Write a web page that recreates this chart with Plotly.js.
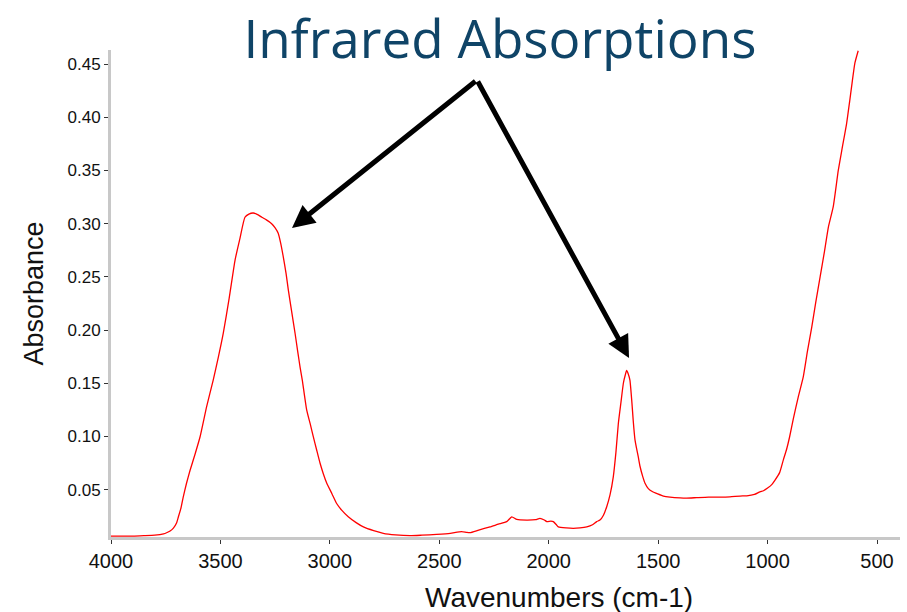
<!DOCTYPE html>
<html>
<head>
<meta charset="utf-8">
<script src="https://cdn.plot.ly/plotly-3.0.1.min.js"></script>
<style>html,body{margin:0;padding:0;background:#fff;}#chart{width:907px;height:612px;}</style>
</head>
<body>
<div id="chart"></div>
<script>
const wavenumbers = [4000,3900,3850,3800,3760,3746,3730,3715,3700,3692,3680,3670,3655,3639,3615,3593,3563,3533,3510,3487,3460,3433,3411,3388,3370,3350,3330,3311,3290,3266,3250,3236,3225,3213,3200,3190,3175,3159,3147,3136,3126,3106,3090,3076,3060,3045,3030,3014,2990,2969,2945,2916,2880,2847,2800,2756,2700,2634,2580,2512,2450,2398,2375,2360,2320,2268,2230,2192,2169,2146,2101,2060,2040,2020,2009,1990,1979,1965,1956,1920,1888,1857,1826,1800,1781,1766,1750,1735,1720,1705,1693,1682,1670,1659,1650,1644,1637,1629,1620,1614,1606,1598,1591,1583,1570,1560,1545,1525,1507,1476,1446,1400,1370,1324,1270,1217,1172,1126,1095,1060,1035,1019,1000,980,966,945,928,913,900,882,860,837,818,798,780,760,740,722,700,677,660,639,625,616,601,586];
const absorbance = [0.0064,0.0064,0.0068,0.0073,0.0085,0.0095,0.0112,0.0139,0.0190,0.0245,0.0330,0.0430,0.0560,0.0680,0.0840,0.0997,0.1280,0.1530,0.1740,0.1970,0.2300,0.2660,0.2860,0.3060,0.3090,0.3100,0.3085,0.3060,0.3035,0.3000,0.2960,0.2910,0.2820,0.2690,0.2530,0.2380,0.2180,0.1970,0.1800,0.1650,0.1530,0.1250,0.1120,0.1000,0.0870,0.0750,0.0650,0.0560,0.0460,0.0370,0.0305,0.0245,0.0190,0.0150,0.0115,0.0090,0.0075,0.0067,0.0072,0.0080,0.0090,0.0105,0.0098,0.0096,0.0120,0.0150,0.0175,0.0199,0.0245,0.0220,0.0214,0.0218,0.0230,0.0215,0.0200,0.0205,0.0200,0.0170,0.0150,0.0140,0.0136,0.0140,0.0150,0.0170,0.0200,0.0214,0.0260,0.0340,0.0450,0.0620,0.0850,0.1120,0.1320,0.1500,0.1580,0.1620,0.1590,0.1530,0.1320,0.1150,0.0970,0.0880,0.0810,0.0720,0.0620,0.0560,0.0510,0.0480,0.0465,0.0440,0.0430,0.0422,0.0420,0.0425,0.0430,0.0430,0.0433,0.0440,0.0442,0.0455,0.0480,0.0490,0.0515,0.0550,0.0590,0.0660,0.0780,0.0880,0.0990,0.1170,0.1370,0.1560,0.1800,0.2030,0.2260,0.2500,0.2740,0.2970,0.3160,0.3500,0.3700,0.3940,0.4150,0.4290,0.4510,0.4625];
const xTicks = [4000,3500,3000,2500,2000,1500,1000,500];
const xTickLabels = ["4000","3500","3000","2500","2000","1500","1000","500"];
const arrowTail = [2328, 0.435];
const arrowHeads = [[3173, 0.296],[1633, 0.1737]];

const trace = {
  x: wavenumbers, y: absorbance, type: 'scatter', mode: 'lines',
  line: {color: '#ff0000', width: 1.3, shape: 'spline', smoothing: 0.5}, hoverinfo: 'skip'
};
const annotations = arrowHeads.map(h => ({
  x: h[0], y: h[1], xref: 'x', yref: 'y',
  ax: arrowTail[0], ay: arrowTail[1], axref: 'x', ayref: 'y',
  text: '', showarrow: true, arrowhead: 2, arrowsize: 0.9, arrowwidth: 5,
  arrowcolor: '#000000', standoff: 0, startstandoff: 0
}));
annotations.push({
  text: 'Wavenumbers (cm-1)', xref: 'paper', yref: 'paper',
  x: (559 - 111) / 789, y: -(597 - 537) / 487, xanchor: 'center', yanchor: 'middle',
  showarrow: false, font: {family: 'Liberation Sans, Arial', size: 28, color: '#111'}
});
const layout = {
  width: 907, height: 612,
  margin: {l: 111, r: 7, t: 50, b: 75},
  paper_bgcolor: '#ffffff', plot_bgcolor: '#ffffff',
  showlegend: false,
  title: {text: 'Infrared Absorptions', font: {family: 'Open Sans', size: 53, color: '#0f4467'},
          x: 500/907, xref: 'container', xanchor: 'center', y: 1 - 39/612, yref: 'container', yanchor: 'middle'},
  xaxis: {
    range: [4000, 395], tickmode: 'array', tickvals: xTicks, ticktext: xTickLabels,
    showline: true, linecolor: '#c8c8c8', linewidth: 3, mirror: false,
    ticks: 'outside', ticklen: 4, tickcolor: '#333', tickwidth: 1,
    showgrid: false, zeroline: false,
    tickfont: {family: 'Liberation Sans, Arial', size: 20, color: '#111'},
    automargin: false
  },
  yaxis: {
    range: [0.0055, 0.4632], tick0: 0, dtick: 0.05, tickformat: '.2f',
    showline: true, linecolor: '#c8c8c8', linewidth: 3,
    ticks: 'outside', ticklen: 4, tickcolor: '#333', tickwidth: 1,
    showgrid: false, zeroline: false,
    tickfont: {family: 'Liberation Sans, Arial', size: 17, color: '#111'},
    title: {text: 'Absorbance', font: {family: 'Liberation Sans, Arial', size: 27, color: '#111'}, standoff: 17},
    automargin: false
  },
  annotations: annotations
};
Plotly.newPlot('chart', [trace], layout, {staticPlot: true, displayModeBar: false});
</script>
</body>
</html>
